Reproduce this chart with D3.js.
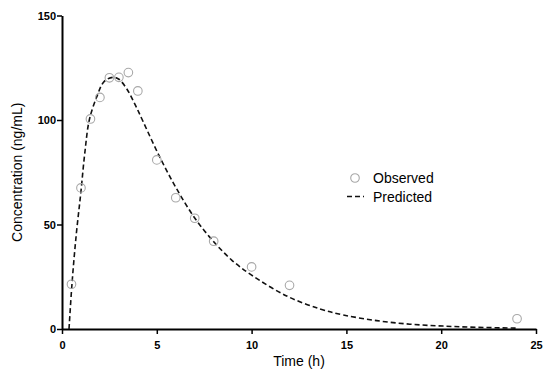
<!DOCTYPE html>
<html>
<head>
<meta charset="utf-8">
<script src="https://cdn.jsdelivr.net/npm/d3@7"></script>
<style>
  body { margin: 0; background: #fff; }
  svg { font-family: "Liberation Sans", Arial, sans-serif; }
</style>
</head>
<body>
<svg id="chart" width="550" height="375"></svg>
<script>
// Observed concentrations
const obsTime = [0.5, 1, 1.5, 2, 2.5, 3, 3.5, 4, 5, 6, 7, 8, 10, 12, 24];
const obsConc = [21.4, 67.5, 100.5, 110.8, 120.2, 120.4, 122.7, 113.9, 80.9, 62.8, 53.0, 42.0, 29.7, 20.9, 4.9];

// Predicted curve
const predTime = [0.37, 0.53, 0.75, 0.99, 1.2, 1.44, 1.83, 2.23, 2.7, 3.0, 3.41, 3.85, 4.29, 5.17, 6.05, 7.01, 7.98, 8.95, 10.0, 11.85, 13.6, 14.84, 16.6, 18.35, 20.1, 21.9, 24];
const predConc = [0, 22, 45, 65, 84, 100, 111, 118.5, 120.4, 119.5, 115, 107.5, 99, 82, 67, 53, 42, 33, 25.8, 15.8, 9.6, 6.7, 4.0, 2.3, 1.4, 0.8, 0.4];

const xTicks = [0, 5, 10, 15, 20, 25];
const yTicks = [0, 50, 100, 150];

const margin = { top: 15.5, right: 14, bottom: 46, left: 62 };
const width = 550, height = 375;
const chartWidth = width - margin.left - margin.right;
const chartHeight = height - margin.top - margin.bottom;

const svg = d3.select('#chart');
const g = svg.append('g').attr('transform', `translate(${margin.left}, ${margin.top})`);

const xScale = d3.scaleLinear().domain([0, 25]).range([0, chartWidth]);
const yScale = d3.scaleLinear().domain([0, 150]).range([chartHeight, 0]);

// Осі
const xAxis = g.append('g')
  .attr('transform', `translate(0, ${chartHeight})`)
  .call(d3.axisBottom(xScale).tickValues(xTicks).tickSize(5).tickSizeOuter(0));
const yAxis = g.append('g')
  .call(d3.axisLeft(yScale).tickValues(yTicks).tickSize(5).tickSizeOuter(0));

[xAxis, yAxis].forEach(a => {
  a.select('.domain').style('stroke', '#000').style('stroke-width', 2);
  a.selectAll('.tick line').style('stroke', '#000').style('stroke-width', 1.5);
  a.selectAll('.tick text')
    .style('fill', '#000')
    .style('font-size', '11px')
    .style('font-weight', 'bold')
    .style('font-family', '"Liberation Sans", Arial, sans-serif');
});
xAxis.selectAll('.tick text').attr('dy', '1.1em');
yAxis.selectAll('.tick text').attr('x', -6);

// Прогнозна крива
const line = d3.line()
  .x((d, i) => xScale(predTime[i]))
  .y(d => yScale(d))
  .curve(d3.curveCatmullRom.alpha(0.5));

g.append('path')
  .datum(predConc)
  .attr('d', line)
  .style('fill', 'none')
  .style('stroke', '#111')
  .style('stroke-width', 1.6)
  .style('stroke-dasharray', '5,3');

// Спостереження
g.selectAll('.obs')
  .data(obsConc)
  .enter()
  .append('circle')
  .attr('class', 'obs')
  .attr('cx', (d, i) => xScale(obsTime[i]))
  .attr('cy', d => yScale(d))
  .attr('r', 4.3)
  .style('fill', 'none')
  .style('stroke', '#a8a8a8')
  .style('stroke-width', 1.1);

// Підписи осей
svg.append('text')
  .attr('x', margin.left + chartWidth / 2)
  .attr('y', 366)
  .attr('text-anchor', 'middle')
  .style('font-size', '14px')
  .text('Time (h)');

svg.append('text')
  .attr('transform', `translate(22, ${margin.top + chartHeight / 2}) rotate(-90)`)
  .attr('text-anchor', 'middle')
  .style('font-size', '14px')
  .text('Concentration (ng/mL)');

// Легенда
const legend = svg.append('g').attr('transform', 'translate(355, 178)');
legend.append('circle')
  .attr('r', 4.3)
  .style('fill', 'none')
  .style('stroke', '#a8a8a8')
  .style('stroke-width', 1.1);
legend.append('text')
  .attr('x', 18).attr('y', 5)
  .style('font-size', '14px')
  .text('Observed');
legend.append('line')
  .attr('x1', -8).attr('x2', 9)
  .attr('y1', 18.5).attr('y2', 18.5)
  .style('stroke', '#111')
  .style('stroke-width', 1.6)
  .style('stroke-dasharray', '5,3');
legend.append('text')
  .attr('x', 18).attr('y', 23.5)
  .style('font-size', '14px')
  .text('Predicted');
</script>
</body>
</html>
